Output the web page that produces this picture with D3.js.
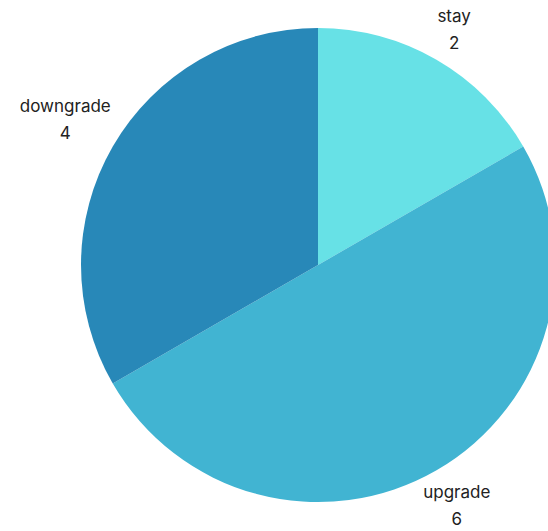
<!DOCTYPE html>
<html>
<head>
<meta charset="utf-8">
<script src="https://cdn.jsdelivr.net/npm/d3@7"></script>
<style>
  body { margin: 0; background: #fff; }
  text { font-family: Inter, Roboto, sans-serif; font-size: 17px; fill: #222; }
</style>
</head>
<body>
<div id="pie"></div>
<script>
const categories = ['stay', 'upgrade', 'downgrade'];
const values = [2, 6, 4];
const colors = ['#67e1e6', '#41b4d2', '#2888b8'];

const W = 548, H = 531;
const CX = 318, CY = 265, R = 237;

const svg = d3.select('#pie').append('svg')
  .attr('width', W)
  .attr('height', H)
  .append('g')
  .attr('transform', `translate(${CX},${CY})`);

const pie = d3.pie().sort(null).value(d => d.value);
const arcs = pie(categories.map((c, i) => ({name: c, value: values[i]})));

const arc = d3.arc().innerRadius(0).outerRadius(R);

svg.selectAll('path')
  .data(arcs)
  .enter()
  .append('path')
  .attr('d', arc)
  .attr('fill', (d, i) => colors[i]);

const label = svg.selectAll('.label')
  .data(arcs)
  .enter()
  .append('text')
  .attr('class', 'label')
  .attr('text-anchor', 'middle');

label.append('tspan').attr('x', 0).attr('dy', 0).text(d => d.data.name);
label.append('tspan').attr('x', 0).attr('dy', 27).text(d => d.data.value);

// place each label block outside its slice, wider labels pushed further out
label.attr('transform', function(d) {
  const a = (d.startAngle + d.endAngle) / 2;
  const hw = this.firstChild.getComputedTextLength() / 2;
  const r = R + 30 + 0.63 * hw * Math.abs(Math.sin(a));
  const x = r * Math.sin(a), y = -r * Math.cos(a);
  return `translate(${x},${y - 7})`;
});
</script>
</body>
</html>
